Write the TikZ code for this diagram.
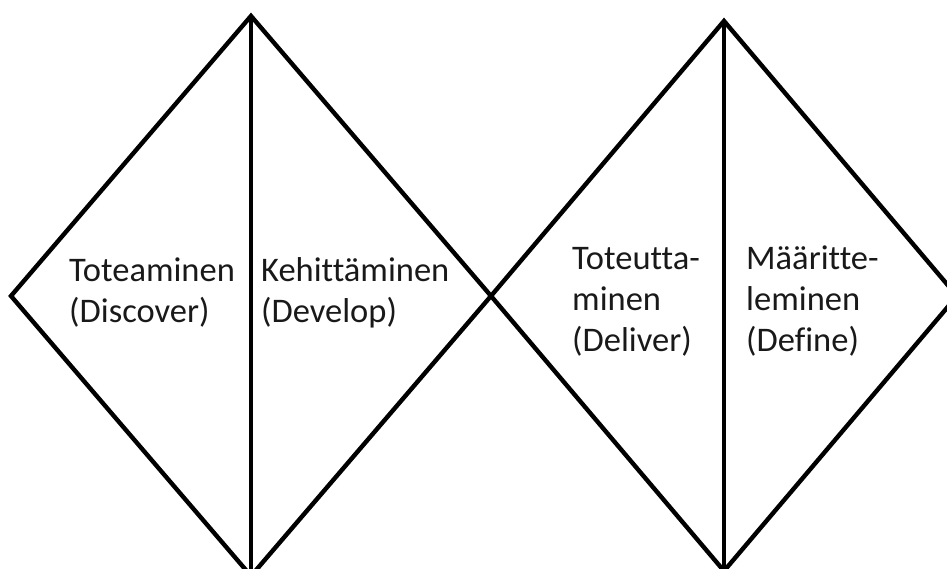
\documentclass[tikz,border=0pt]{standalone}
\usepackage{fontspec}
\setmainfont[Ligatures={NoCommon,NoContextual},RawFeature={-liga;-dlig}]{Carlito}
\begin{document}
\begin{tikzpicture}[x=1pt,y=1pt,
  outline/.style={line width=4.4pt,line join=miter},
  divider/.style={line width=3.3pt},
  label/.style={anchor=base west,align=left,inner sep=0pt,
    font=\fontsize{34.5}{41}\selectfont,text=black!90}]
  \useasboundingbox (0,0) rectangle (947,569);
  % left diamond
  \coordinate (lt) at (251,553);
  \coordinate (ll) at (11,273);
  \coordinate (mid) at (491,273);
  \coordinate (lb) at (251,-7);
  % right diamond
  \coordinate (rt) at (724,548);
  \coordinate (rr) at (957,273);
  \coordinate (rb) at (724,-2);
  \draw[outline] (lt) -- (ll) -- (lb) -- (mid) -- cycle;
  \draw[outline] (rt) -- (mid) -- (rb) -- (rr) -- cycle;
  \draw[divider] (lt) -- (lb);
  \draw[divider] (rt) -- (rb);
  % phase labels (anchored at the baseline of their last line)
  \node[label] (discover) at (69,246) {Toteaminen\\(Discover)};
  \node[label] (develop) at (261,246) {Kehittäminen\\(Develop)};
  \node[label] (deliver) at (572,217) {Toteutta-\\minen\\(Deliver)};
  \node[label] (define) at (746,217) {Määritte-\\leminen\\(Define)};
\end{tikzpicture}
\end{document}
